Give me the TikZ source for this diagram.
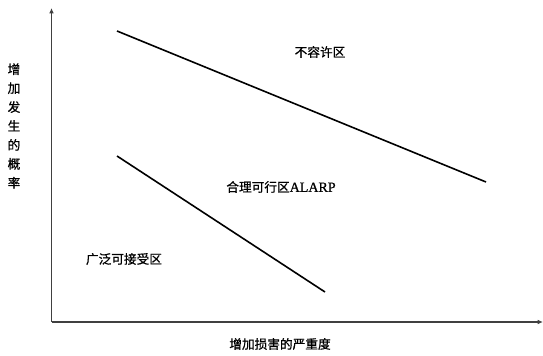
\documentclass[tikz,border=0pt]{standalone}
\usepackage{fontspec}
\newfontfamily\cjk{Noto Sans CJK SC}[FakeBold=0.8]
\newfontfamily\lat{Liberation Serif}[FakeBold=0.8]
\usetikzlibrary{arrows.meta}
\begin{document}
\begin{tikzpicture}[x=0.75pt,y=-0.75pt,
  axis/.style={draw=black!75,line width=0.8pt,-{Latex[length=4pt,width=3.5pt]}},
  zone/.style={draw=black,line width=1.2pt},
  lbl/.style={font=\cjk\fontsize{9.5pt}{11pt}\selectfont,inner sep=0pt}]
\useasboundingbox (0,0) rectangle (543,356);
\coordinate (o) at (51.5,322);
\coordinate (ytop) at (51.5,8);
\coordinate (xend) at (543,322);
\draw[axis] (o) -- (ytop);
\draw[axis] (o) -- (xend);
\coordinate (a1) at (117,31);
\coordinate (a2) at (486,182);
\coordinate (b1) at (117,156);
\coordinate (b2) at (325,292);
\draw[zone] (a1) -- (a2);
\draw[zone] (b1) -- (b2);
\node[lbl] (t1) at (320,52) {不容许区};
\node[lbl] (t2) at (281,187) {合理可行区{\lat\fontsize{10.5pt}{11pt}\selectfont ALARP}};
\node[lbl] (t3) at (124,259) {广泛可接受区};
\node[lbl] (t4) at (280,344) {增加损害的严重度};
\node[lbl,align=center] (t5) at (14,126) {增\\[3.2pt]加\\[3.2pt]发\\[3.2pt]生\\[3.2pt]的\\[3.2pt]概\\[3.2pt]率};
\end{tikzpicture}
\end{document}
